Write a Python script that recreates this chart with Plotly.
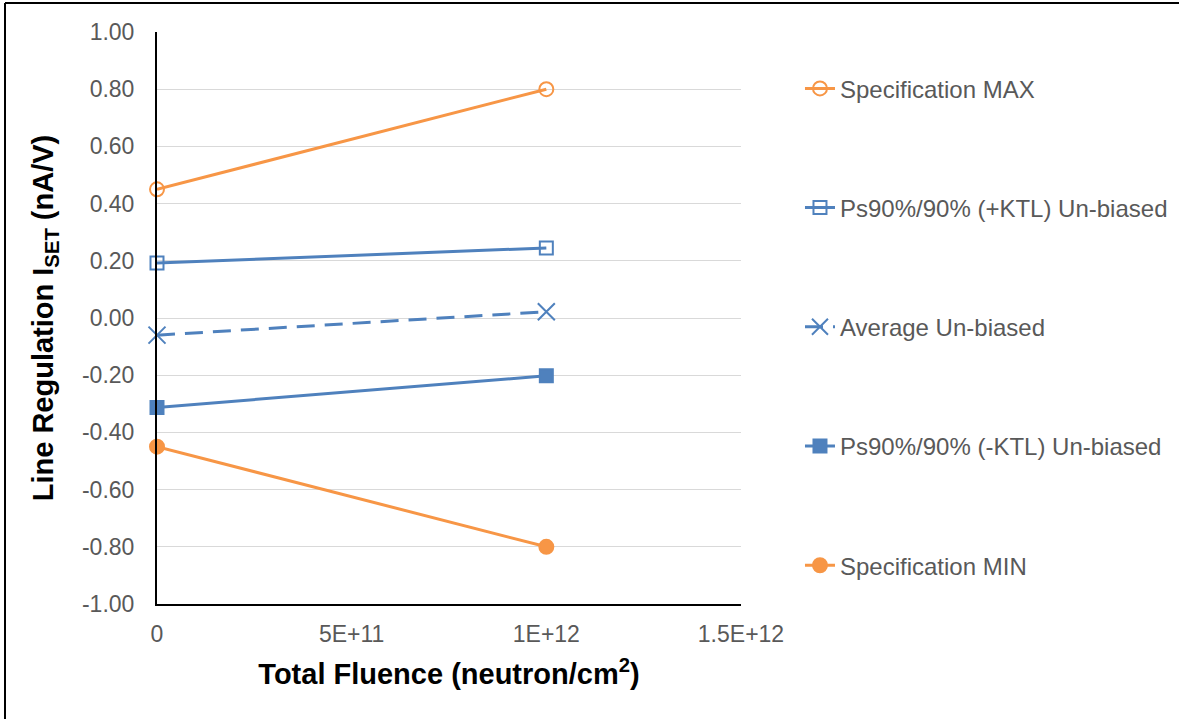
import plotly.graph_objects as go

fluence = [0, 1e12]
spec_max = [0.45, 0.80]
ktl_plus = [0.192, 0.245]
average = [-0.060, 0.022]
ktl_minus = [-0.313, -0.202]
spec_min = [-0.45, -0.80]

x_tickvals = [0, 5e11, 1e12, 1.5e12]
x_ticktext = ["0", "5E+11", "1E+12", "1.5E+12"]
y_tickvals = [-1.0, -0.8, -0.6, -0.4, -0.2, 0.0, 0.2, 0.4, 0.6, 0.8, 1.0]
y_ticktext = ["-1.00", "-0.80", "-0.60", "-0.40", "-0.20", "0.00",
              "0.20", "0.40", "0.60", "0.80", "1.00"]

ORANGE = "#F79646"
BLUE = "#4F81BD"
FONT = "Liberation Sans, Arial, sans-serif"

fig = go.Figure()

series = [
    ("Specification MAX", spec_max, ORANGE, "circle-open", "solid", 14),
    ("Ps90%/90% (+KTL) Un-biased", ktl_plus, BLUE, "square-open", "solid", 13),
    ("Average Un-biased", average, BLUE, "x-thin-open", "18px,10px", 17),
    ("Ps90%/90% (-KTL) Un-biased", ktl_minus, BLUE, "square", "solid", 13),
    ("Specification MIN", spec_min, ORANGE, "circle", "solid", 14),
]

for i, (name, vals, color, sym, dash, size) in enumerate(series):
    fig.add_trace(go.Scatter(
        x=fluence, y=vals, name=name, mode="lines+markers",
        line=dict(color=color, width=3, dash=dash),
        marker=dict(symbol=sym, size=size, color=color,
                    line=dict(color=color, width=2)),
        legendgroup=f"g{i}", cliponaxis=False,
    ))

fig.update_layout(
    width=1179, height=719,
    margin=dict(l=157, r=438, t=32, b=115, autoexpand=False),
    paper_bgcolor="white", plot_bgcolor="white",
    font=dict(family=FONT, color="#595959", size=23),
    legend=dict(x=1.101, xanchor="left", y=0.94, yanchor="top",
                tracegroupgap=85, font=dict(size=24, color="#595959"),
                bgcolor="rgba(0,0,0,0)"),
    xaxis=dict(range=[0, 1.5e12], tickvals=x_tickvals, ticktext=x_ticktext,
               showgrid=False, zeroline=False, showline=True, linecolor="black",
               linewidth=2, ticks="", ticklabelstandoff=8,
               tickfont=dict(size=23, color="#595959"),
               title=dict(text="<b>Total Fluence (neutron/cm<sup>2</sup>)</b>",
                          font=dict(size=29, color="black", family=FONT),
                          standoff=18)),
    yaxis=dict(range=[-1, 1], tickvals=y_tickvals, ticktext=y_ticktext,
               showgrid=True, gridcolor="#D9D9D9", gridwidth=1,
               zeroline=False, showline=True, linecolor="black", linewidth=2,
               ticks="", ticklabelstandoff=16,
               tickfont=dict(size=23, color="#595959"),
               title=dict(text="<b>Line Regulation I<sub>SET</sub> (nA/V)</b>",
                          font=dict(size=29, color="black", family=FONT),
                          standoff=20)),
)

# outer frame (left and top edges visible)
fig.add_shape(type="line", xref="paper", yref="paper",
              x0=(5 - 157) / 584, x1=(5 - 157) / 584,
              y0=(604 - 3) / 572, y1=(604 - 730) / 572,
              line=dict(color="black", width=2))
fig.add_shape(type="line", xref="paper", yref="paper",
              x0=(5 - 157) / 584, x1=(1190 - 157) / 584,
              y0=(604 - 3) / 572, y1=(604 - 3) / 572,
              line=dict(color="black", width=2))

fig.write_html("out.html")
